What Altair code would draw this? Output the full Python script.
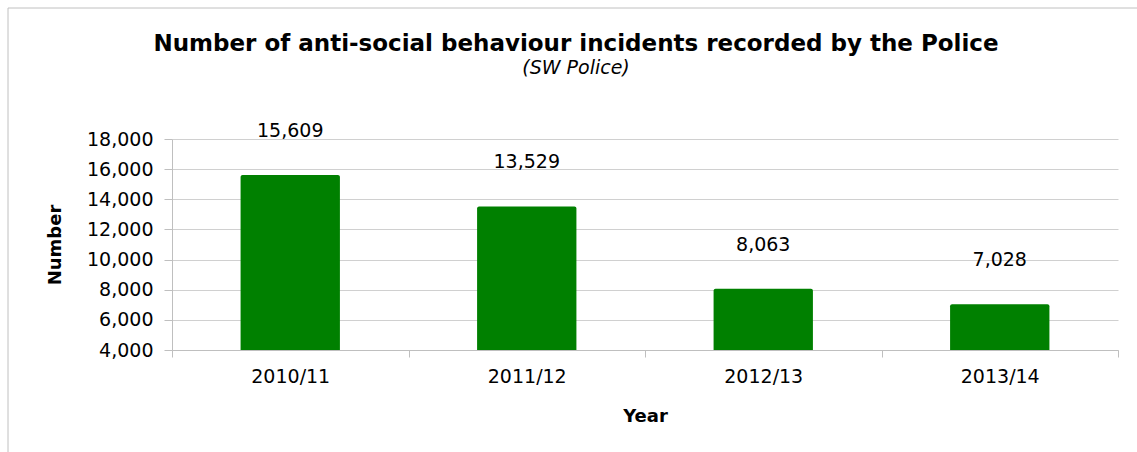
import altair as alt
import pandas as pd

years = ["2010/11", "2011/12", "2012/13", "2013/14"]
incidents = [15609, 13529, 8063, 7028]
y_ticks = [4000, 6000, 8000, 10000, 12000, 14000, 16000, 18000]
y_floor = 4000
title_text = "Number of anti-social behaviour incidents recorded by the Police"
subtitle_text = "(SW Police)"

df = pd.DataFrame({"Year": years, "Number": incidents})
FONT = "DejaVu Sans"

x_enc = alt.X(
    "Year:N",
    sort=years,
    scale=alt.Scale(paddingInner=0, paddingOuter=0),
    axis=alt.Axis(
        title="Year",
        labelAngle=0,
        tickBand="extent",
        tickSize=7,
        labelPadding=10,
        titlePadding=21,
        grid=False,
    ),
)
y_enc = alt.Y(
    "Number:Q",
    scale=alt.Scale(domain=[4000, 18000], nice=False, zero=False),
    axis=alt.Axis(
        title="Number",
        values=y_ticks,
        format=",d",
        tickSize=8,
        labelPadding=11,
        titlePadding=22,
        grid=True,
    ),
)

base = alt.Chart(df).encode(x=x_enc, y=y_enc)

bars = base.mark_bar(
    color="#008000", width=alt.RelativeBandSize(0.42), cornerRadiusTopLeft=2, cornerRadiusTopRight=2
).encode(y2=alt.datum(y_floor))

labels = base.mark_text(
    baseline="alphabetic", dy=-38, fontSize=19, font=FONT, color="#000000"
).encode(text=alt.Text("Number:Q", format=","))

one = alt.Data(values=[{"a": 1}])

border = alt.Chart(one).mark_rect(
    fill=None, stroke="#c0c0c0", strokeWidth=1
).encode(
    x=alt.value(-164), x2=alt.value(1100), y=alt.value(-131), y2=alt.value(400)
)

title = alt.Chart(one).mark_text(
    font=FONT, fontSize=23, fontWeight="bold", color="#000000", align="center", baseline="alphabetic"
).encode(x=alt.value(404), y=alt.value(-88), text=alt.value(title_text))

subtitle = alt.Chart(one).mark_text(
    font=FONT, fontSize=19, fontStyle="italic", color="#000000", align="center", baseline="alphabetic"
).encode(x=alt.value(404), y=alt.value(-65), text=alt.value(subtitle_text))

chart = (
    alt.layer(border, bars, labels, title, subtitle)
    .properties(
        width=946,
        height=211,
        autosize=alt.AutoSizeParams(type="none"),
        padding={"left": 172, "top": 139, "right": 19, "bottom": 102},
    )
    .configure_view(stroke=None)
    .configure_axis(
        labelFont=FONT,
        labelFontSize=19,
        labelColor="#000000",
        titleFont=FONT,
        titleFontSize=18,
        titleFontWeight="bold",
        titleColor="#000000",
        domainColor="#bfbfbf",
        tickColor="#bfbfbf",
        gridColor="#d0d0d0",
    )
)

chart.save("out.html", embed_options={"renderer": "svg", "actions": False})
